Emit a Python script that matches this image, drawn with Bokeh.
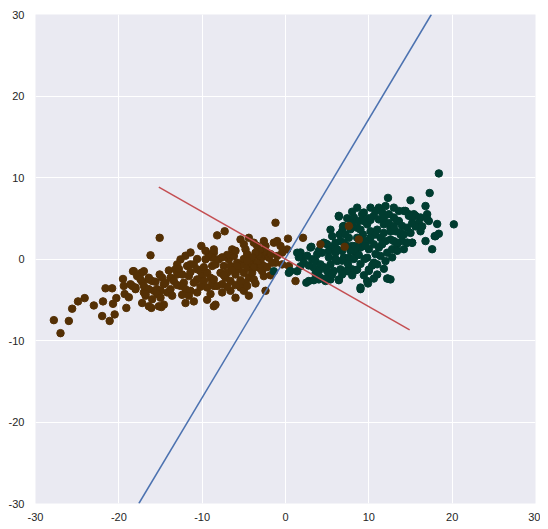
from bokeh.plotting import figure
from bokeh.embed import file_html
from bokeh.resources import INLINE
from bokeh.models import FixedTicker

# ---- data ----
brown_pts = [
    (-15.1,2.6),(-16.2,0.45),(-18.3,-1.5),(-17.3,-1.7),(-19.5,-2.45),(-21.6,-3.6),(-20.8,-3.6),(-20.3,-4.8),
    (-24.1,-4.8),(-24.9,-5.2),(-25.6,-6.1),(-27.8,-7.5),(-26.0,-7.6),(-27.0,-9.1),(-23.0,-5.7),(-21.9,-5.2),
    (-20.7,-5.5),(-22.0,-7.0),(-20.5,-6.8),(-21.1,-7.6),(-19.1,-6.0),(-19.4,-3.3),(-18.6,-3.1),(-19.3,-4.3),
    (-18.8,-4.7),(-18.0,-3.7),(-17.2,-2.8),(-16.4,-2.5),(-16.0,-2.7),(-17.0,-4.1),(-16.8,-4.5),(-17.2,-5.4),
    (-16.1,-6.0),(-15.8,-3.9),(-15.4,-3.7),(-15.0,-3.9),(-15.1,-1.9),(-14.8,-2.3),(-14.9,-5.9),(-14.6,-3.1),
    (-10.1,1.6),(-11.4,0.8),(-12.0,0.4),(-12.6,-0.05),(-13.0,-0.66),(-13.2,-1.27),(-18.2,-1.5),(-17.0,-1.5),
    (-16.4,-2.3),(-17.8,-2.1),(-17.4,-2.5),(-18.4,-3.3),(-18.0,-3.5),(-17.0,-3.3),(-16.4,-3.7),(-16.8,-4.3),
    (-15.4,-4.3),(-16.0,-4.95),(-15.0,-4.75),(-14.6,-5.6),(-14.2,-4.1),(-13.8,-3.7),(-14.4,-2.9),(-13.8,-2.3),
    (-13.4,-2.7),(-12.4,-1.9),(-11.8,-0.86),(-11.4,-0.66),(-11.0,-0.66),(-10.6,-1.27),(-10.2,-1.5),(-10.0,-2.1),
    (-9.8,-2.7),(-10.6,-2.5),(-11.6,-2.1),(-12.2,-2.9),(-12.6,-3.3),(-12.0,-3.7),(-11.4,-3.9),(-11.6,-4.5),
    (-11.0,-5.2),(-12.0,-5.4),(-10.6,-4.1),(-9.4,-1.7),(-9.0,-2.3),(-8.8,-0.86),(-8.6,0.77),(-8.8,0.16),
    (-9.2,0.57),(-9.6,-0.04),(-8.6,-5.8),(-9.6,1.0),(-9.0,-4.3),(-9.4,-3.5),(-8.6,-3.3),(-8.8,-2.9),
    (-11.0,-2.9),(-13.0,-1.9),(-13.6,-4.5),(-15.2,-5.8),(-16.4,-5.8),
    (-1.2,4.45),(-8.2,2.9),(-7.3,3.4),(-5.4,2.4),(-5.0,1.8),(-4.8,1.2),(-4.6,0.6),(-2.6,2.2),
    (-1.4,2.0),(-2.4,1.6),(0.3,2.5),(-8.6,1.18),(-8.4,-0.66),(-8.0,-0.04),(-7.8,-1.7),(-8.2,-3.3),
    (-7.6,-3.1),(-8.6,-2.5),(-7.4,-0.86),(-6.8,-0.04),(-6.6,-0.86),(-6.2,0.37),(-6.4,1.18),(-7.0,-1.7),
    (-7.2,-2.3),(-6.6,-2.7),(-6.0,-1.9),(-5.6,-1.27),(-5.8,-0.45),(-5.2,-0.66),(-5.0,-1.7),(-4.6,-1.07),
    (-4.4,-2.3),(-4.8,-2.9),(-5.4,-3.5),(-5.0,-3.9),(-4.6,-3.3),(-4.0,-1.7),(-3.8,-2.5),(-4.2,-0.45),
    (-6.6,-3.9),(-6.0,-4.75),(-4.4,-4.5),(-2.6,-2.1),(-2.4,-3.9),(-8.4,-5.6),(-7.6,-4.1),(-3.4,1.6),
    (-3.0,1.0),(-2.6,0.37),(-3.2,0.37),(-3.6,0.77),(-2.2,0.77),(-2.0,0.16),(-3.0,-0.25),(-2.6,-0.86),
    (-3.4,-0.45),(-3.2,-1.07),(-2.8,-1.5),(-0.4,0.77),(0.2,1.18),(-1.0,0.37),(-1.2,-0.45),(-0.4,-0.66),
    (0.4,-0.86),(1.2,-2.7),(-1.6,-0.45),(-1.8,0.6),
    (-7.0,0.5),(-7.6,0.2),(-6.0,1.0),(-5.8,-0.9),(-5.0,0.0),(-4.0,0.2),(-3.8,-1.0),(-4.6,-0.2),
    (-6.4,-1.4),(-7.4,-2.0),(-6.0,-3.2),(-5.4,-2.6),(-3.6,-3.0),(-9.8,-1.0),(-10.6,0.0),(-11.4,-1.6),
    (-12.8,-1.2),(-13.0,-3.2),(-12.4,-4.4),(-14.0,-1.4),(-15.6,-2.8),(-9.4,-5.0),(-10.2,-3.4),(-7.0,-3.4),
    (-2.2,-1.0),(-1.8,-2.0),(-0.6,1.6),(-1.0,2.2),(-3.8,2.0),(-4.4,2.6),
]
brown_top_pts = [(2.1,2.6),(4.2,1.8),(7.1,1.5),(8.8,2.4),(7.6,4.05)]

teal_pts = [
    (8.6,6.3),(6.4,5.3),(9.2,5.5),(8.2,5.1),(8.8,4.66),(8.0,4.46),(8.6,3.84),(7.8,3.64),(7.0,4.05),(6.8,3.4),
    (5.6,2.8),(4.6,2.0),(5.0,1.8),(3.0,1.4),(1.8,0.8),(2.0,0.2),(2.2,-0.45),(1.4,-1.5),
    (3.2,-0.04),(3.6,-0.25),(3.8,0.57),(4.4,0.77),(4.2,-0.66),(3.4,-1.07),(4.0,-1.47),(2.8,-2.7),(3.4,-2.6),
    (4.2,-2.3),(4.8,-2.7),(5.4,-2.5),(6.4,-2.6),(5.0,-1.47),(5.8,-1.47),(6.6,-1.27),(7.4,-1.4),(8.0,-1.27),
    (8.4,-1.4),(5.4,-0.66),(6.2,-0.25),(7.0,0.16),(7.6,0.16),(8.4,0.77),(9.0,1.4),(9.2,2.2),(8.6,2.6),
    (7.6,2.6),(6.6,2.2),(5.8,1.6),(5.2,0.98),(6.0,0.77),(6.8,0.98),(8.0,1.6),(9.0,-3.7),
    (9.9,-3.0),(12.2,-2.4),(11.0,-1.9),(2.5,-2.9),(4.0,-2.5),(5.0,-2.3),(6.4,-2.5),(7.4,-1.5),(8.6,-1.3),
    (10.0,-1.3),(0.4,-1.7),(1.8,-0.9),(1.6,0.2),(1.4,0.77),(3.1,1.5),(4.8,1.9),(6.4,5.2),(6.9,4.0),
    (9.4,5.7),(12.3,7.5),(12.0,6.5),(-1.4,-1.5),(0.6,-1.47),
    (17.3,8.1),(15.0,7.2),(16.8,6.5),(13.0,6.3),(11.2,6.3),(14.2,5.9),(14.8,5.5),(15.4,5.5),(16.2,5.1),
    (17.0,5.5),(17.2,4.66),(17.9,2.8),(16.8,2.2),(17.6,1.2),(15.2,2.0),(14.6,2.0),(14.0,2.2),(13.4,1.8),
    (13.8,3.0),(13.2,3.4),(12.6,3.8),(11.8,4.25),(11.2,4.86),(10.6,5.3),
    (11.0,-0.65),(12.3,-2.4),(9.8,-2.7),(10.0,-1.47),(9.0,-3.5),(12.2,0.77),(11.4,0.37),(12.0,-0.25),
    (10.6,-0.45),(9.8,0.16),(9.8,4.25),(10.2,3.4),(10.8,3.0),(11.4,2.6),(12.0,2.2),(10.6,1.8),(9.8,2.2),
    (11.2,1.4),(10.0,1.2),(12.6,2.4),(13.0,5.1),(13.6,4.66),(12.4,5.5),(11.6,5.7),(10.8,5.9),(10.2,6.3),
    (9.4,4.66),(9.3,3.0),
    (18.4,10.5),(20.2,4.25),(18.2,4.3),(18.4,3.1),(18.0,2.8),(17.0,4.9),(16.0,4.45),(16.2,3.4),(14.4,5.9),
    (12.6,-2.5),(15.6,5.3),(15.2,5.1),(14.8,5.3),(13.6,5.9),(13.4,4.66),(14.0,4.05),(14.6,3.84),(13.8,3.2),
    (13.0,2.2),(13.4,2.0),(14.6,2.0),(15.2,2.0),(12.6,3.4),
    (6.0,2.0),(6.5,3.0),(7.2,3.0),(7.0,2.0),(7.8,1.0),(8.2,0.0),(8.8,0.5),(9.5,0.0),(9.0,-0.6),(7.5,-0.6),
    (6.8,-0.2),(6.0,0.0),(5.2,0.2),(4.6,-1.0),(5.6,-1.9),(6.8,-1.9),(8.0,-2.0),(9.4,-2.0),(10.6,-2.4),
    (10.8,0.6),(10.2,2.6),(11.0,3.6),(11.8,3.2),(12.4,4.4),(10.2,4.8),(9.0,3.6),(9.6,1.6),(8.4,1.6),
    (11.6,1.8),(12.8,1.2),(12.8,0.2),(11.8,-1.2),(13.4,1.0),(14.2,1.2),(14.2,3.0),(15.0,3.2),(15.6,4.0),
    (15.2,4.4),(16.4,4.0),(13.0,4.0),(7.4,5.0),(8.0,5.8),(10.0,5.0),(11.8,5.0),(5.4,3.6),(4.0,1.0),
    (2.6,0.4),(2.8,-0.8),(3.6,-1.8),(10.4,-0.8),(6.2,1.2),(7.4,1.6),
]

blue_x = [-17.6, 17.5]
blue_y = [-30.0, 30.0]
red_x = [-15.2, 14.9]
red_y = [8.83, -8.7]

ticks = [-30, -20, -10, 0, 10, 20, 30]
tick_labels = ["-30", "-20", "-10", "0", "10", "20", "30"]

BROWN = "#543005"
TEAL = "#003c30"

p = figure(width=540, height=528, x_range=(-30, 30), y_range=(-30, 30),
           output_backend="svg", toolbar_location=None,
           min_border_left=35, min_border_top=14, min_border_right=5, min_border_bottom=25)
p.background_fill_color = "#EAEAF2"
p.border_fill_color = "white"
p.outline_line_color = None

for ax in (p.xaxis, p.yaxis):
    ax.ticker = FixedTicker(ticks=ticks)
    ax.major_label_overrides = {t: s for t, s in zip(ticks, tick_labels)}
    ax.axis_line_color = None
    ax.major_tick_line_color = None
    ax.minor_tick_line_color = None
    ax.major_tick_out = 0
    ax.major_tick_in = 0
    ax.major_label_text_font = "Liberation Sans"
    ax.major_label_text_font_size = "11px"
    ax.major_label_text_color = "#262626"
p.yaxis.major_label_standoff = 11
p.xaxis.major_label_standoff = 9
p.grid.grid_line_color = "white"
p.grid.grid_line_width = 1

bx = [a for a, b in brown_pts]
by = [b for a, b in brown_pts]
tx = [a for a, b in teal_pts]
ty = [b for a, b in teal_pts]
btx = [a for a, b in brown_top_pts]
bty = [b for a, b in brown_top_pts]

p.scatter(bx, by, size=7.5, fill_color=BROWN, line_color=BROWN)
p.scatter(tx, ty, size=7.5, fill_color=TEAL, line_color=TEAL)
p.scatter(btx, bty, size=7.5, fill_color=BROWN, line_color=BROWN)

p.line(blue_x, blue_y, line_color="#4C72B0", line_width=1.5)
p.line(red_x, red_y, line_color="#C44E52", line_width=1.5)

open("out.html", "w").write(file_html(p, INLINE))
